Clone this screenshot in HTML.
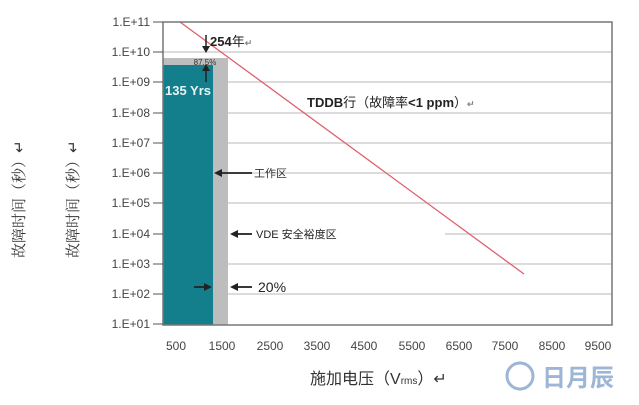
<!DOCTYPE html>
<html><head><meta charset="utf-8"><style>
body{margin:0;width:639px;height:400px;background:#fff;overflow:hidden;font-family:"Liberation Sans","Noto Sans CJK SC",sans-serif}
</style></head><body>
<svg width="639" height="400" xmlns="http://www.w3.org/2000/svg" font-family="Liberation Sans, Noto Sans CJK SC, sans-serif">
<g stroke="#c8c8c8" stroke-width="1.2">
<line x1="163" y1="52" x2="612" y2="52"/><line x1="163" y1="82" x2="612" y2="82"/>
<line x1="163" y1="113" x2="612" y2="113"/><line x1="163" y1="143" x2="612" y2="143"/>
<line x1="163" y1="173" x2="612" y2="173"/><line x1="163" y1="203" x2="612" y2="203"/>
<line x1="445" y1="234" x2="612" y2="234"/><line x1="228" y1="264" x2="612" y2="264"/>
<line x1="228" y1="294" x2="612" y2="294"/>
</g>
<rect x="163" y="58" width="65" height="267" fill="#bdbdbd"/>
<rect x="163" y="65" width="50" height="260" fill="#137f8d"/>
<line x1="180" y1="22" x2="524" y2="274" stroke="#e06070" stroke-width="1.3"/>
<rect x="163" y="22" width="449" height="303" fill="none" stroke="#777" stroke-width="1.5"/>
<g font-size="12" fill="#444" text-anchor="end">
<text x="150" y="26">1.E+11</text><text x="150" y="56">1.E+10</text><text x="150" y="86">1.E+09</text>
<text x="150" y="117">1.E+08</text><text x="150" y="147">1.E+07</text><text x="150" y="177">1.E+06</text>
<text x="150" y="207">1.E+05</text><text x="150" y="238">1.E+04</text><text x="150" y="268">1.E+03</text>
<text x="150" y="298">1.E+02</text><text x="150" y="328">1.E+01</text>
</g>
<g stroke="#555"><line x1="153" y1="22" x2="163" y2="22"/><line x1="153" y1="52" x2="163" y2="52"/><line x1="153" y1="82" x2="163" y2="82"/><line x1="153" y1="113" x2="163" y2="113"/><line x1="153" y1="143" x2="163" y2="143"/><line x1="153" y1="173" x2="163" y2="173"/><line x1="153" y1="203" x2="163" y2="203"/><line x1="153" y1="234" x2="163" y2="234"/><line x1="153" y1="264" x2="163" y2="264"/><line x1="153" y1="294" x2="163" y2="294"/><line x1="153" y1="324" x2="163" y2="324"/></g>
<g font-size="12" fill="#444" text-anchor="middle">
<text x="176" y="350">500</text><text x="222" y="350">1500</text><text x="270" y="350">2500</text>
<text x="317" y="350">3500</text><text x="364" y="350">4500</text><text x="412" y="350">5500</text>
<text x="459" y="350">6500</text><text x="505" y="350">7500</text><text x="552" y="350">8500</text>
<text x="598" y="350">9500</text>
</g>
<text x="310" y="384" font-size="16" fill="#333">施加电压（V<tspan font-size="10">rms</tspan>）↵</text>
<text x="210" y="46" font-size="13" font-weight="bold" fill="#222">254<tspan font-weight="normal">年</tspan><tspan font-size="9" fill="#888">↵</tspan></text>
<line x1="206" y1="35" x2="206" y2="50" stroke="#222" stroke-width="1.5"/><polygon points="202,46 210,46 206,53" fill="#222"/>
<text x="205" y="65" font-size="8" fill="#333" text-anchor="middle">87.5%</text>
<line x1="206" y1="82" x2="206" y2="68" stroke="#222" stroke-width="1.5"/><polygon points="202,71 210,71 206,64" fill="#222"/>
<text x="188" y="95" font-size="13" font-weight="bold" fill="#e8f4f4" text-anchor="middle">135 Yrs</text>
<text x="307" y="107" font-size="13" font-weight="bold" fill="#222">TDDB<tspan font-weight="normal">行（故障率</tspan>&lt;1 ppm<tspan font-weight="normal">）</tspan><tspan font-size="9" fill="#888">↵</tspan></text>
<line x1="220" y1="173" x2="252" y2="173" stroke="#222" stroke-width="1.8"/><polygon points="214,173 222,169 222,177" fill="#222"/>
<text x="254" y="177" font-size="11" fill="#333">工作区</text>
<line x1="236" y1="234" x2="252" y2="234" stroke="#222" stroke-width="1.8"/><polygon points="230,234 238,230 238,238" fill="#222"/>
<text x="256" y="238" font-size="11" fill="#222">VDE 安全裕度区</text>
<line x1="194" y1="287" x2="208" y2="287" stroke="#222" stroke-width="1.8"/><polygon points="212,287 204,283 204,291" fill="#222"/>
<line x1="236" y1="287" x2="252" y2="287" stroke="#222" stroke-width="1.8"/><polygon points="230,287 238,283 238,291" fill="#222"/>
<text x="258" y="292" font-size="14" fill="#222">20%</text>
<text transform="translate(24,258) rotate(-90)" font-size="15" fill="#333" font-family="Liberation Serif, Noto Serif CJK SC, serif">故障时间（秒）↵</text>
<text transform="translate(78,258) rotate(-90)" font-size="15" fill="#333" font-family="Liberation Serif, Noto Serif CJK SC, serif">故障时间（秒）↵</text>
<circle cx="520" cy="376" r="13" fill="none" stroke="#9db6d6" stroke-width="3"/>
<text x="542" y="386" font-size="24" font-weight="bold" fill="#9db6d6">日月辰</text>
</svg>
</body></html>
